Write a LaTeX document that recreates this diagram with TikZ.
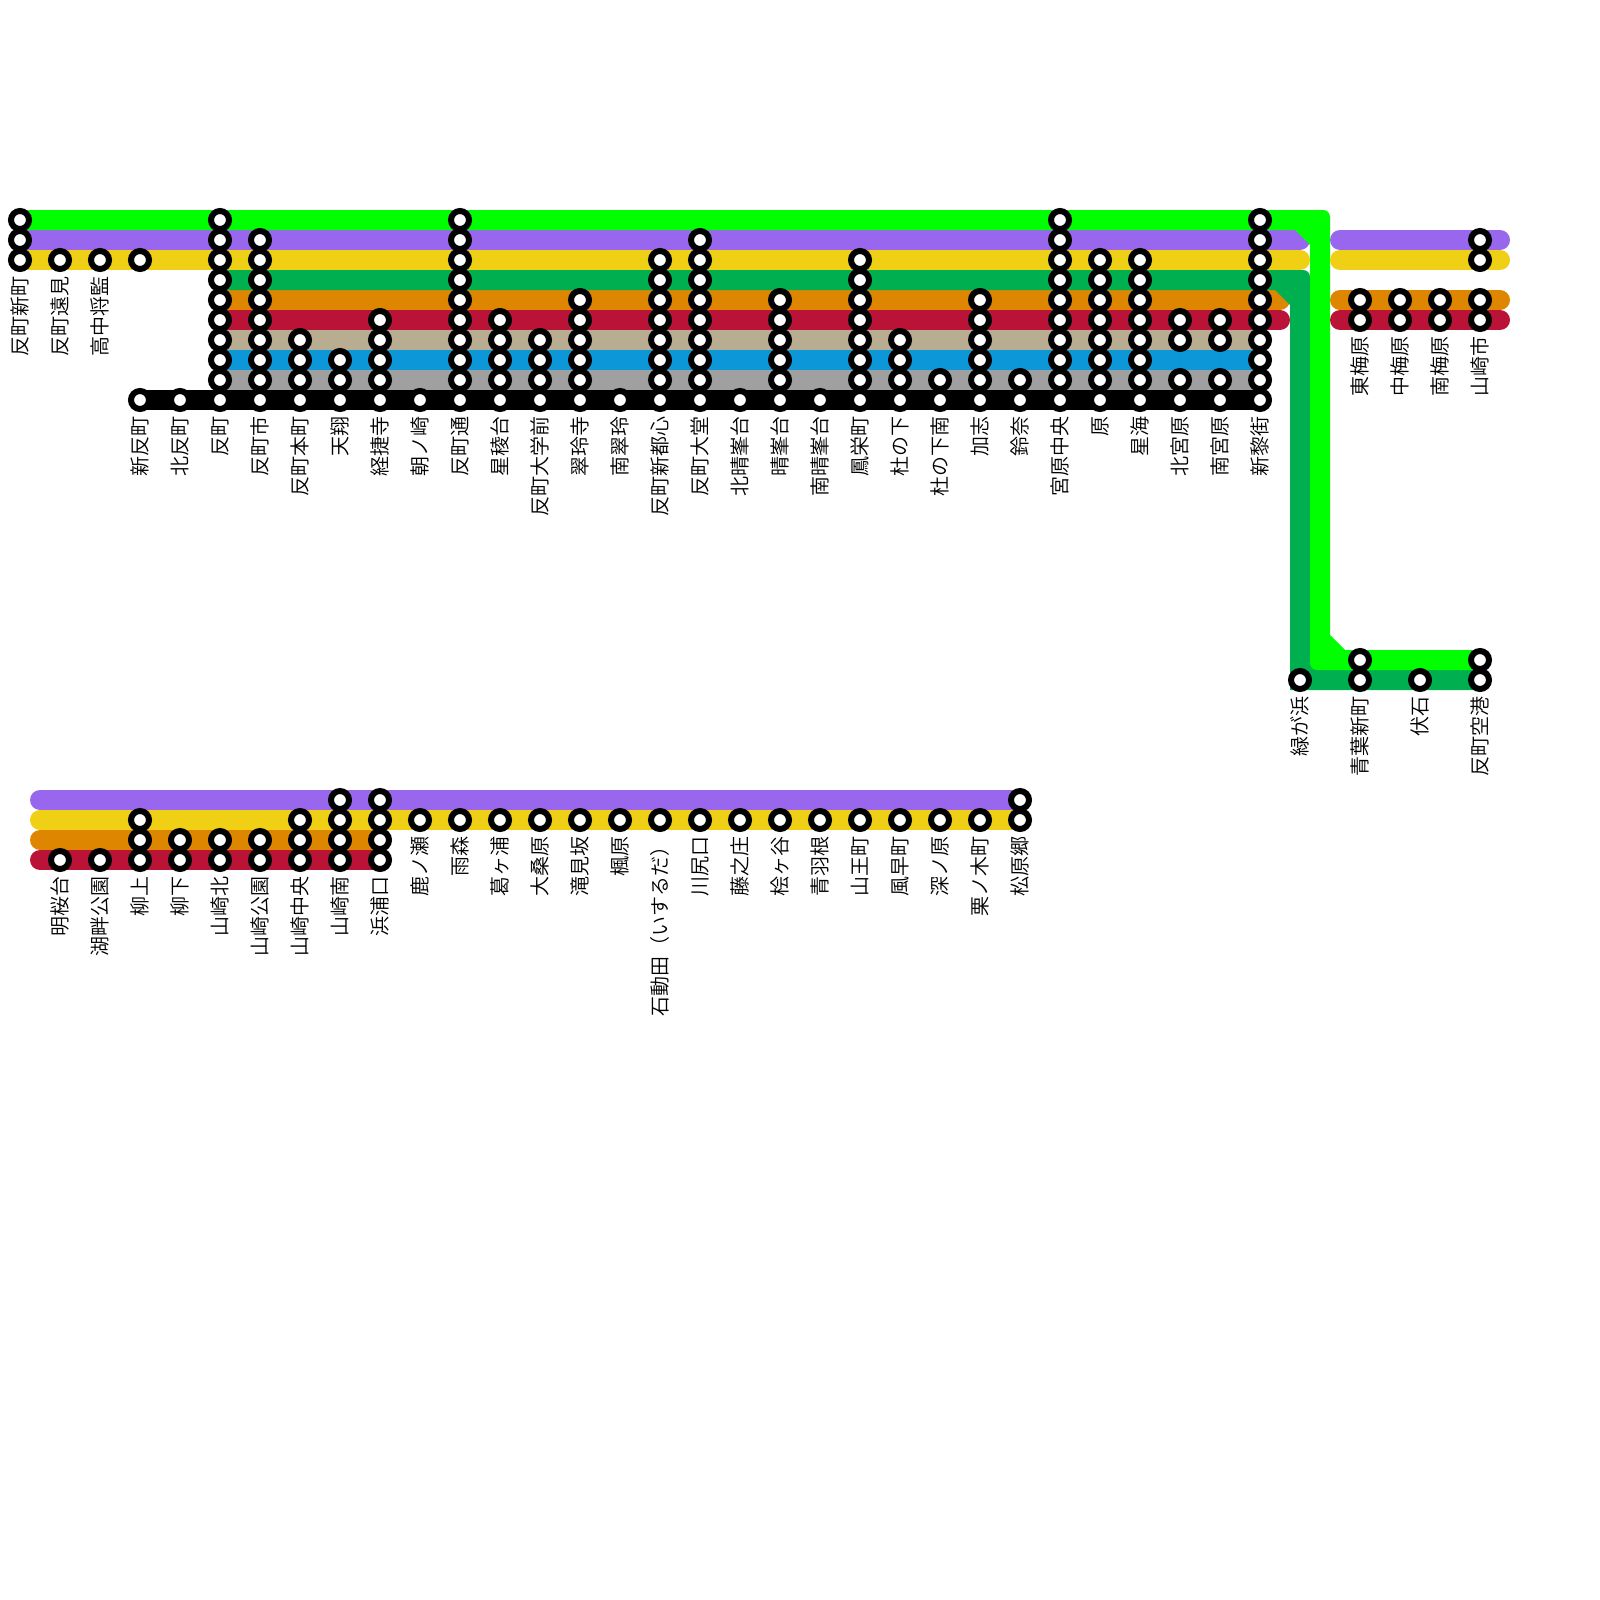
\documentclass[tikz,border=0pt]{standalone}
\usepackage{fontspec}
\setmainfont{Noto Sans CJK JP DemiLight}
\definecolor{cgreen}{HTML}{00FF00}
\definecolor{cpurple}{HTML}{9966EE}
\definecolor{cyellow}{HTML}{F0D014}
\definecolor{cdark}{HTML}{00B050}
\definecolor{corange}{HTML}{DF8600}
\definecolor{cred}{HTML}{BB1238}
\definecolor{ctan}{HTML}{B8AD90}
\definecolor{cblue}{HTML}{0B97D8}
\definecolor{cgray}{HTML}{A0A0A0}
\tikzset{
  lineband/.style={line width=10pt},
  roundband/.style={line width=10pt,line cap=round},
  station/.style={circle,draw=black,fill=white,line width=3pt,minimum size=9pt,inner sep=0pt,outer sep=0pt},
  stationname/.style={rotate=90,anchor=east,inner sep=0pt,outer sep=0pt,font=\fontsize{10pt}{10pt}\selectfont,text height=8.8pt,text depth=1.2pt,text=black}
}
\begin{document}
\begin{tikzpicture}[x=0.5pt,y=-0.5pt]
\useasboundingbox (0,0) rectangle (1600,1600);
% upper block
\draw[roundband,cpurple] (20,240) -- (1300,240);
\draw[roundband,cyellow] (20,260) -- (1300,260);
\draw[roundband,corange] (220,300) -- (1280,300);
\draw[roundband,cred] (220,320) -- (1280,320);
\draw[lineband,ctan] (220,340) -- (1260,340);
\draw[lineband,cblue] (220,360) -- (1260,360);
\draw[lineband,cgray] (220,380) -- (1260,380);
\draw[lineband,black] (140,400) -- (1260,400);
% dark green and bright green trunk lines
\fill[cdark] (220,270) -- (1303,270) .. controls (1307,270) and (1310,273) .. (1310,277) -- (1310,660) -- (1320,670) -- (1480,670) -- (1480,690) -- (1290,690) -- (1290,305) -- (1275,290) -- (220,290) -- cycle;
\fill[cgreen] (20,210) -- (1323,210) .. controls (1327,210) and (1330,213) .. (1330,217) -- (1330,635) -- (1345,650) -- (1480,650) -- (1480,670) -- (1317,670) .. controls (1313,670) and (1310,667) .. (1310,663) -- (1310,245) -- (1295,230) -- (20,230) -- cycle;
% right block
\draw[roundband,cpurple] (1340,240) -- (1500,240);
\draw[roundband,cyellow] (1340,260) -- (1500,260);
\draw[roundband,corange] (1340,300) -- (1500,300);
\draw[roundband,cred] (1340,320) -- (1500,320);
% lower block
\draw[roundband,cpurple] (40,800) -- (1020,800);
\draw[roundband,cyellow] (40,820) -- (1020,820);
\draw[roundband,corange] (40,840) -- (380,840);
\draw[roundband,cred] (40,860) -- (380,860);
% stations
\foreach \x/\ys in {
 20/{220,240,260},60/{260},100/{260},140/{260,400},180/{400},
 220/{220,240,260,280,300,320,340,360,380,400},
 260/{240,260,280,300,320,340,360,380,400},
 300/{340,360,380,400},340/{360,380,400},380/{320,340,360,380,400},420/{400},
 460/{220,240,260,280,300,320,340,360,380,400},
 500/{320,340,360,380,400},540/{340,360,380,400},580/{300,320,340,360,380,400},620/{400},
 660/{260,280,300,320,340,360,380,400},
 700/{240,260,280,300,320,340,360,380,400},740/{400},
 780/{300,320,340,360,380,400},820/{400},
 860/{260,280,300,320,340,360,380,400},
 900/{340,360,380,400},940/{380,400},980/{300,320,340,360,380,400},1020/{380,400},
 1060/{220,240,260,280,300,320,340,360,380,400},
 1100/{260,280,300,320,340,360,380,400},
 1140/{260,280,300,320,340,360,380,400},
 1180/{320,340,380,400},1220/{320,340,380,400},
 1260/{220,240,260,280,300,320,340,360,380,400},
 1360/{300,320,660,680},1400/{300,320},1440/{300,320},1480/{240,260,300,320,660,680},
 1300/{680},1420/{680}}
 {\foreach \y in \ys {\node[station] (s\x-\y) at (\x,\y) {};}}
\foreach \x/\ys in {
 60/{860},100/{860},140/{820,840,860},180/{840,860},220/{840,860},260/{840,860},
 300/{820,840,860},340/{800,820,840,860},380/{800,820,840,860},
 420/{820},460/{820},500/{820},540/{820},580/{820},620/{820},660/{820},700/{820},740/{820},
 780/{820},820/{820},860/{820},900/{820},940/{820},980/{820},1020/{800,820}}
 {\foreach \y in \ys {\node[station] (s\x-\y) at (\x,\y) {};}}
% names
\foreach \x/\y/\t in {
 20/276/反町新町,60/276/反町遠見,100/276/高中将監,
 140/416/新反町,180/416/北反町,220/416/反町,260/416/反町市,300/416/反町本町,340/416/天翔,
 380/416/経捷寺,420/416/朝ノ崎,460/416/反町通,500/416/星稜台,540/416/反町大学前,580/416/翠玲寺,
 620/416/南翠玲,660/416/反町新都心,700/416/反町大堂,740/416/北晴峯台,780/416/晴峯台,820/416/南晴峯台,
 860/416/鳳栄町,900/416/杜の下,940/416/杜の下南,980/416/加志,1020/416/鈴奈,1060/416/宮原中央,
 1100/416/原,1140/416/星海,1180/416/北宮原,1220/416/南宮原,1260/416/新黎街,
 1360/336/東梅原,1400/336/中梅原,1440/336/南梅原,1480/336/山崎市,
 1300/696/緑が浜,1360/696/青葉新町,1420/696/伏石,1480/696/反町空港,
 60/876/明桜台,100/876/湖畔公園,140/876/柳上,180/876/柳下,220/876/山崎北,260/876/山崎公園,
 300/876/山崎中央,340/876/山崎南,380/876/浜浦口,
 420/836/鹿ノ瀬,460/836/雨森,500/836/葛ヶ浦,540/836/大桑原,580/836/滝見坂,620/836/楓原,
 660/836/石動田（いするだ）,700/836/川尻口,740/836/藤之庄,780/836/桧ヶ谷,820/836/青羽根,
 860/836/山王町,900/836/風早町,940/836/深ノ原,980/836/栗ノ木町,1020/836/松原郷}
 {\node[stationname] (n\x-\y) at (\x,\y) {\t};}
\end{tikzpicture}
\end{document}
